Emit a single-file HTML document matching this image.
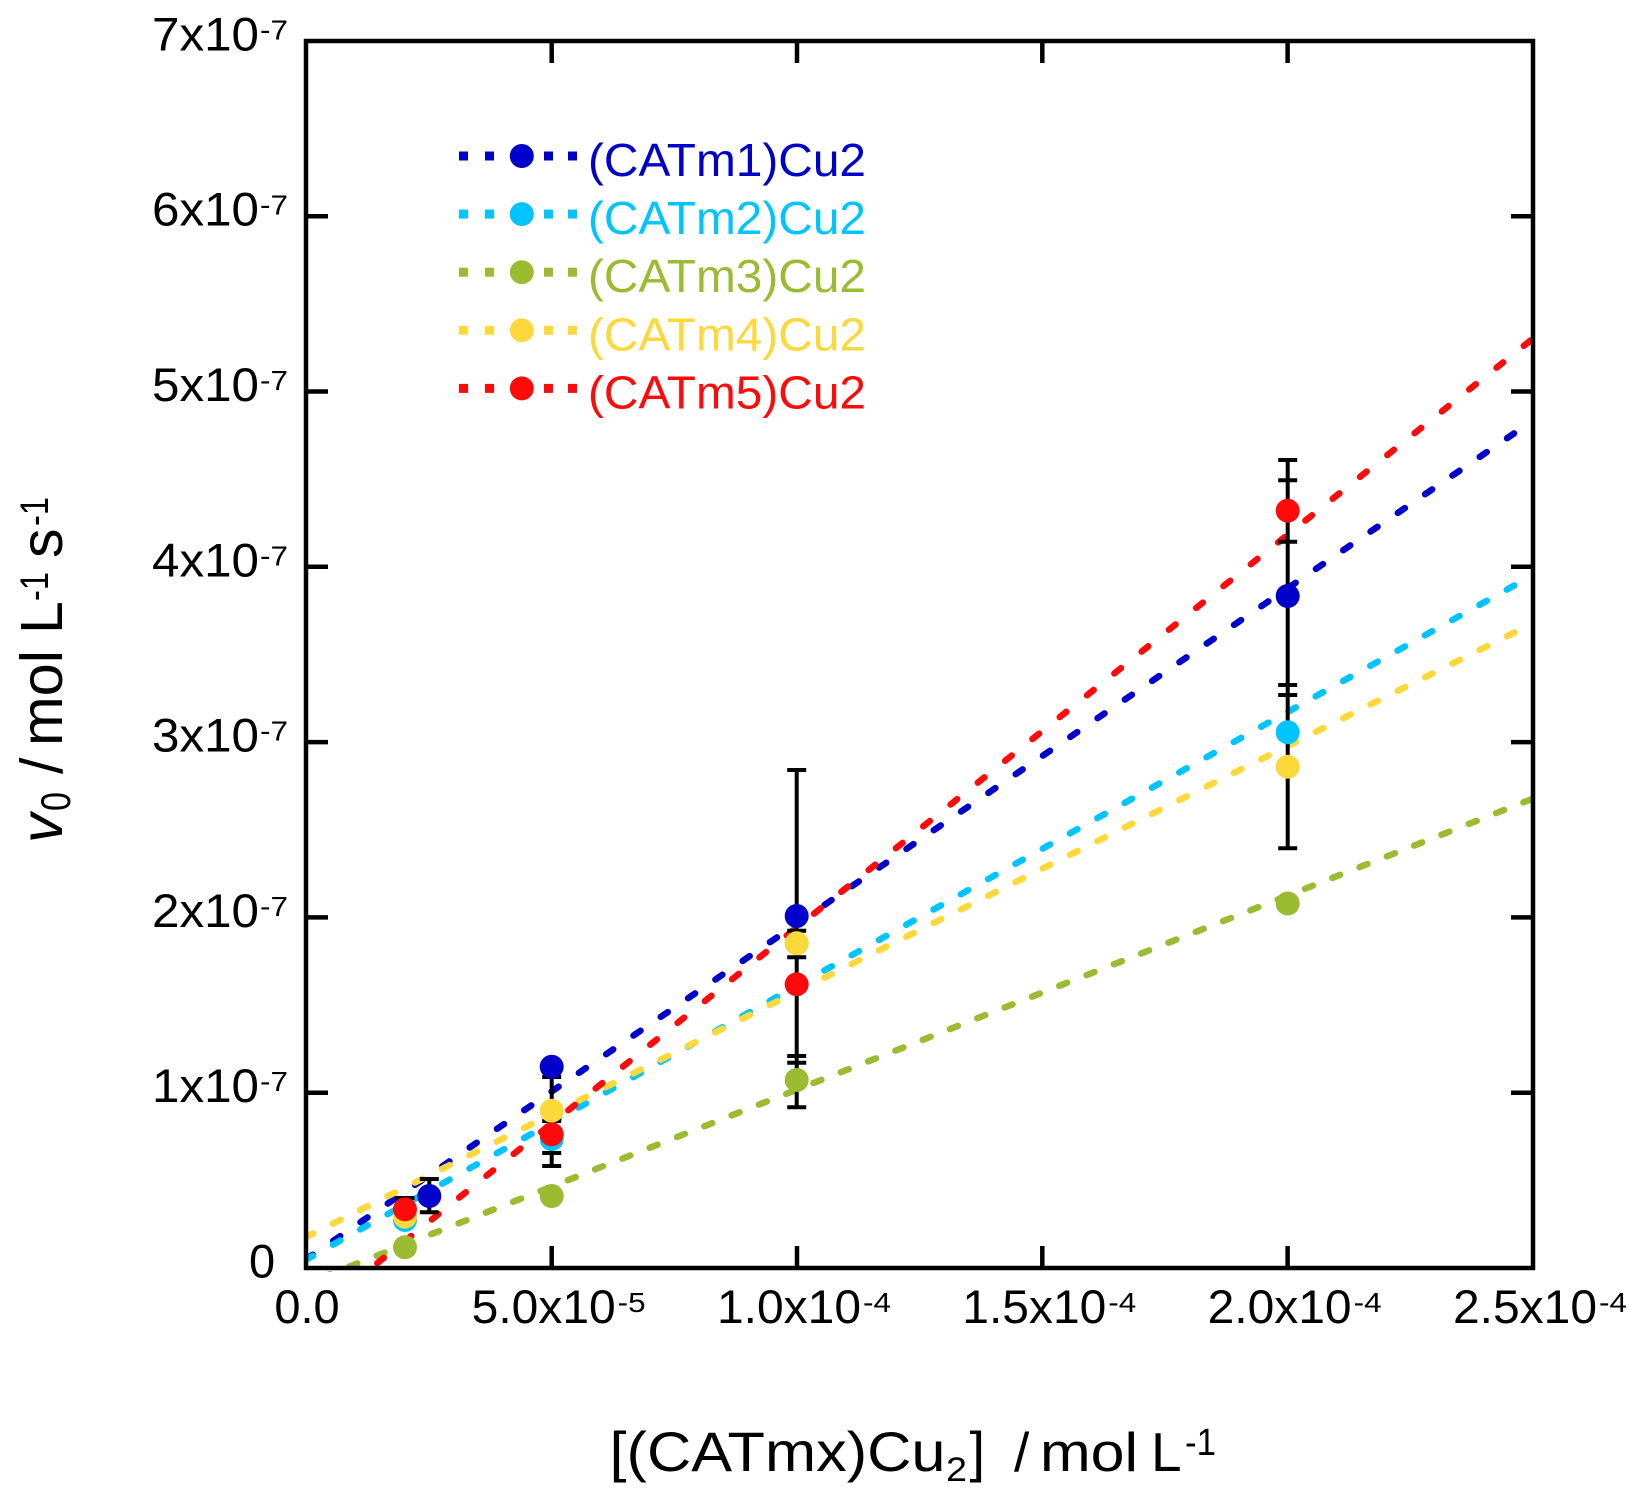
<!DOCTYPE html>
<html><head><meta charset="utf-8"><style>
html,body{margin:0;padding:0;background:#fff;}
svg{display:block;}
text{font-family:"Liberation Sans",Arial,sans-serif;fill:#000;}
</style></head><body>
<svg width="1643" height="1497" viewBox="0 0 1643 1497" xmlns="http://www.w3.org/2000/svg">
<rect width="1643" height="1497" fill="#fff"/>
<defs><clipPath id="pc"><rect x="306" y="41" width="1227" height="1231"/></clipPath></defs>

<!-- fit lines -->
<g clip-path="url(#pc)" fill="none" stroke-width="6.5" stroke-linecap="round">
<line x1="278.6" y1="1278.2" x2="1540" y2="415.7" stroke="#0000cc" stroke-dasharray="8.5 24.57"/>
<line x1="278.4" y1="1275.1" x2="1540" y2="571.1" stroke="#00c4ff" stroke-dasharray="8.5 22.76"/>
<line x1="294.75" y1="1288.15" x2="1540" y2="795.8" stroke="#9bbb30" stroke-dasharray="8.5 20.86"/>
<line x1="278.3" y1="1250.9" x2="1540" y2="619.7" stroke="#fdd83b" stroke-dasharray="8.5 22.03"/>
<line x1="349.98" y1="1284.96" x2="1540" y2="332.9" stroke="#ff0a0a" stroke-dasharray="8.5 26.46"/>
</g>

<!-- error bars -->
<g stroke="#000" stroke-width="4" fill="none">
<line x1="405" y1="1198" x2="405" y2="1221"/>
<line x1="395.5" y1="1198" x2="414.5" y2="1198"/>
<line x1="395.5" y1="1221" x2="414.5" y2="1221"/>

<line x1="429.3" y1="1179" x2="429.3" y2="1212.3"/>
<line x1="419.8" y1="1179" x2="438.8" y2="1179"/>
<line x1="419.8" y1="1212.3" x2="438.8" y2="1212.3"/>

<line x1="551.7" y1="1066" x2="551.7" y2="1166"/>
<line x1="542.2" y1="1077" x2="561.2" y2="1077"/>
<line x1="542.2" y1="1121" x2="561.2" y2="1121"/>
<line x1="542.2" y1="1153" x2="561.2" y2="1153"/>
<line x1="542.2" y1="1166" x2="561.2" y2="1166"/>

<line x1="796.7" y1="770" x2="796.7" y2="1107.3"/>
<line x1="787.2" y1="770" x2="806.2" y2="770"/>
<line x1="787.2" y1="930.7" x2="806.2" y2="930.7"/>
<line x1="787.2" y1="957.3" x2="806.2" y2="957.3"/>
<line x1="787.2" y1="1056" x2="806.2" y2="1056"/>
<line x1="787.2" y1="1062.7" x2="806.2" y2="1062.7"/>
<line x1="787.2" y1="1107.3" x2="806.2" y2="1107.3"/>

<line x1="1287.7" y1="460" x2="1287.7" y2="848.3"/>
<line x1="1278.2" y1="460" x2="1297.2" y2="460"/>
<line x1="1278.2" y1="480.3" x2="1297.2" y2="480.3"/>
<line x1="1278.2" y1="541.7" x2="1297.2" y2="541.7"/>
<line x1="1278.2" y1="685" x2="1297.2" y2="685"/>
<line x1="1278.2" y1="695" x2="1297.2" y2="695"/>
<line x1="1278.2" y1="848.3" x2="1297.2" y2="848.3"/>
</g>

<!-- markers -->
<g fill="#0000cc">
<circle cx="429.3" cy="1196" r="12"/><circle cx="551.7" cy="1066.7" r="12"/><circle cx="796.7" cy="916" r="12"/><circle cx="1287.7" cy="596" r="12"/>
</g>
<g fill="#00c4ff">
<circle cx="405" cy="1220" r="12"/><circle cx="551.7" cy="1139" r="12"/><circle cx="796.7" cy="943.3" r="12"/><circle cx="1287.7" cy="732.3" r="12"/>
</g>
<g fill="#9bbb30">
<circle cx="405" cy="1247.3" r="12"/><circle cx="551.7" cy="1196" r="12"/><circle cx="796.7" cy="1080" r="12"/><circle cx="1287.7" cy="903.5" r="12"/>
</g>
<g fill="#fdd83b">
<circle cx="405" cy="1216.7" r="12"/><circle cx="551.7" cy="1110.7" r="12"/><circle cx="796.7" cy="943.3" r="12"/><circle cx="1287.7" cy="766.7" r="12"/>
</g>
<g fill="#ff0a0a">
<circle cx="405" cy="1209.3" r="12"/><circle cx="551.7" cy="1134.3" r="12"/><circle cx="796.7" cy="984.3" r="12"/><circle cx="1287.7" cy="510.7" r="12"/>
</g>

<!-- axes frame & ticks -->
<g stroke="#000" stroke-width="4.5" fill="none">
<rect x="306" y="41" width="1227" height="1227"/>
<line x1="551.7" y1="1268" x2="551.7" y2="1246"/>
<line x1="797" y1="1268" x2="797" y2="1246"/>
<line x1="1042.3" y1="1268" x2="1042.3" y2="1246"/>
<line x1="1287.6" y1="1268" x2="1287.6" y2="1246"/>
<line x1="551.7" y1="41" x2="551.7" y2="63"/>
<line x1="797" y1="41" x2="797" y2="63"/>
<line x1="1042.3" y1="41" x2="1042.3" y2="63"/>
<line x1="1287.6" y1="41" x2="1287.6" y2="63"/>
<line x1="306" y1="216.2" x2="328" y2="216.2"/>
<line x1="306" y1="391.5" x2="328" y2="391.5"/>
<line x1="306" y1="566.8" x2="328" y2="566.8"/>
<line x1="306" y1="742.1" x2="328" y2="742.1"/>
<line x1="306" y1="917.4" x2="328" y2="917.4"/>
<line x1="306" y1="1092.7" x2="328" y2="1092.7"/>
<line x1="1533" y1="216.2" x2="1511" y2="216.2"/>
<line x1="1533" y1="391.5" x2="1511" y2="391.5"/>
<line x1="1533" y1="566.8" x2="1511" y2="566.8"/>
<line x1="1533" y1="742.1" x2="1511" y2="742.1"/>
<line x1="1533" y1="917.4" x2="1511" y2="917.4"/>
<line x1="1533" y1="1092.7" x2="1511" y2="1092.7"/>
</g>

<!-- Y tick labels -->
<g font-size="47">
<text x="152" y="50.5" textLength="107" lengthAdjust="spacingAndGlyphs">7x10</text>
<text x="152" y="225.5" textLength="107" lengthAdjust="spacingAndGlyphs">6x10</text>
<text x="152" y="401" textLength="107" lengthAdjust="spacingAndGlyphs">5x10</text>
<text x="152" y="576.3" textLength="107" lengthAdjust="spacingAndGlyphs">4x10</text>
<text x="152" y="751.6" textLength="107" lengthAdjust="spacingAndGlyphs">3x10</text>
<text x="152" y="926.9" textLength="107" lengthAdjust="spacingAndGlyphs">2x10</text>
<text x="152" y="1102.2" textLength="107" lengthAdjust="spacingAndGlyphs">1x10</text>
<text x="249" y="1277.5">0</text>
</g>
<g font-size="28">
<text x="260" y="39.5" textLength="28" lengthAdjust="spacingAndGlyphs">-7</text>
<text x="260" y="214.5" textLength="28" lengthAdjust="spacingAndGlyphs">-7</text>
<text x="260" y="390" textLength="28" lengthAdjust="spacingAndGlyphs">-7</text>
<text x="260" y="565.3" textLength="28" lengthAdjust="spacingAndGlyphs">-7</text>
<text x="260" y="740.6" textLength="28" lengthAdjust="spacingAndGlyphs">-7</text>
<text x="260" y="915.9" textLength="28" lengthAdjust="spacingAndGlyphs">-7</text>
<text x="260" y="1091.2" textLength="28" lengthAdjust="spacingAndGlyphs">-7</text>
</g>

<!-- X tick labels -->
<g font-size="47">
<text x="307" y="1323" text-anchor="middle">0.0</text>
<text x="471.7" y="1323" textLength="144" lengthAdjust="spacingAndGlyphs">5.0x10</text>
<text x="717" y="1323" textLength="144" lengthAdjust="spacingAndGlyphs">1.0x10</text>
<text x="962.3" y="1323" textLength="144" lengthAdjust="spacingAndGlyphs">1.5x10</text>
<text x="1207.6" y="1323" textLength="144" lengthAdjust="spacingAndGlyphs">2.0x10</text>
<text x="1453" y="1323" textLength="144" lengthAdjust="spacingAndGlyphs">2.5x10</text>
</g>
<g font-size="28">
<text x="617.7" y="1312" textLength="28" lengthAdjust="spacingAndGlyphs">-5</text>
<text x="863" y="1312" textLength="28" lengthAdjust="spacingAndGlyphs">-4</text>
<text x="1108.3" y="1312" textLength="28" lengthAdjust="spacingAndGlyphs">-4</text>
<text x="1353.6" y="1312" textLength="28" lengthAdjust="spacingAndGlyphs">-4</text>
<text x="1599" y="1312" textLength="28" lengthAdjust="spacingAndGlyphs">-4</text>
</g>

<!-- X axis title -->
<text x="609.5" y="1471" font-size="56" textLength="336" lengthAdjust="spacingAndGlyphs">[(CATmx)Cu</text>
<text x="946" y="1481" font-size="34" textLength="21" lengthAdjust="spacingAndGlyphs">2</text>
<text x="969.5" y="1471" font-size="56">]</text>
<text x="1014" y="1471" font-size="55">/</text>
<text x="1040" y="1471" font-size="55" textLength="98" lengthAdjust="spacingAndGlyphs">mol</text>
<text x="1151" y="1471" font-size="55">L</text>
<text x="1185" y="1455" font-size="38" textLength="31" lengthAdjust="spacingAndGlyphs">-1</text>

<!-- Y axis title -->
<g transform="translate(62,842) rotate(-90)">
<text x="-1" y="0" font-size="59" font-style="italic">v</text>
<text x="31" y="8" font-size="42" textLength="19" lengthAdjust="spacingAndGlyphs">0</text>
<text x="68" y="0" font-size="59">/</text>
<text x="96" y="0" font-size="59" textLength="96" lengthAdjust="spacingAndGlyphs">mol</text>
<text x="208" y="0" font-size="59">L</text>
<text x="241" y="-14" font-size="40" textLength="29" lengthAdjust="spacingAndGlyphs">-1</text>
<text x="284" y="0" font-size="59">s</text>
<text x="316" y="-14" font-size="40" textLength="29" lengthAdjust="spacingAndGlyphs">-1</text>
</g>

<!-- Legend -->
<g>
<g fill="#0000cc"><rect x="459" y="151.5" width="9" height="9"/><rect x="485" y="151.5" width="9" height="9"/><rect x="544" y="151.5" width="9" height="9"/><rect x="568" y="151.5" width="9" height="9"/><circle cx="521.8" cy="156" r="12"/>
<text x="588" y="176" font-size="46" textLength="278" lengthAdjust="spacingAndGlyphs" style="fill:#0000cc">(CATm1)Cu2</text></g>
<g fill="#00c4ff"><rect x="459" y="209.6" width="9" height="9"/><rect x="485" y="209.6" width="9" height="9"/><rect x="544" y="209.6" width="9" height="9"/><rect x="568" y="209.6" width="9" height="9"/><circle cx="521.8" cy="214.1" r="12"/>
<text x="588" y="234.1" font-size="46" textLength="278" lengthAdjust="spacingAndGlyphs" style="fill:#00c4ff">(CATm2)Cu2</text></g>
<g fill="#9bbb30"><rect x="459" y="267.7" width="9" height="9"/><rect x="485" y="267.7" width="9" height="9"/><rect x="544" y="267.7" width="9" height="9"/><rect x="568" y="267.7" width="9" height="9"/><circle cx="521.8" cy="272.2" r="12"/>
<text x="588" y="292.2" font-size="46" textLength="278" lengthAdjust="spacingAndGlyphs" style="fill:#9bbb30">(CATm3)Cu2</text></g>
<g fill="#fdd83b"><rect x="459" y="325.8" width="9" height="9"/><rect x="485" y="325.8" width="9" height="9"/><rect x="544" y="325.8" width="9" height="9"/><rect x="568" y="325.8" width="9" height="9"/><circle cx="521.8" cy="330.3" r="12"/>
<text x="588" y="350.3" font-size="46" textLength="278" lengthAdjust="spacingAndGlyphs" style="fill:#fdd83b">(CATm4)Cu2</text></g>
<g fill="#ff0a0a"><rect x="459" y="383.9" width="9" height="9"/><rect x="485" y="383.9" width="9" height="9"/><rect x="544" y="383.9" width="9" height="9"/><rect x="568" y="383.9" width="9" height="9"/><circle cx="521.8" cy="388.4" r="12"/>
<text x="588" y="408.4" font-size="46" textLength="278" lengthAdjust="spacingAndGlyphs" style="fill:#ff0a0a">(CATm5)Cu2</text></g>
</g>
</svg>
</body></html>
